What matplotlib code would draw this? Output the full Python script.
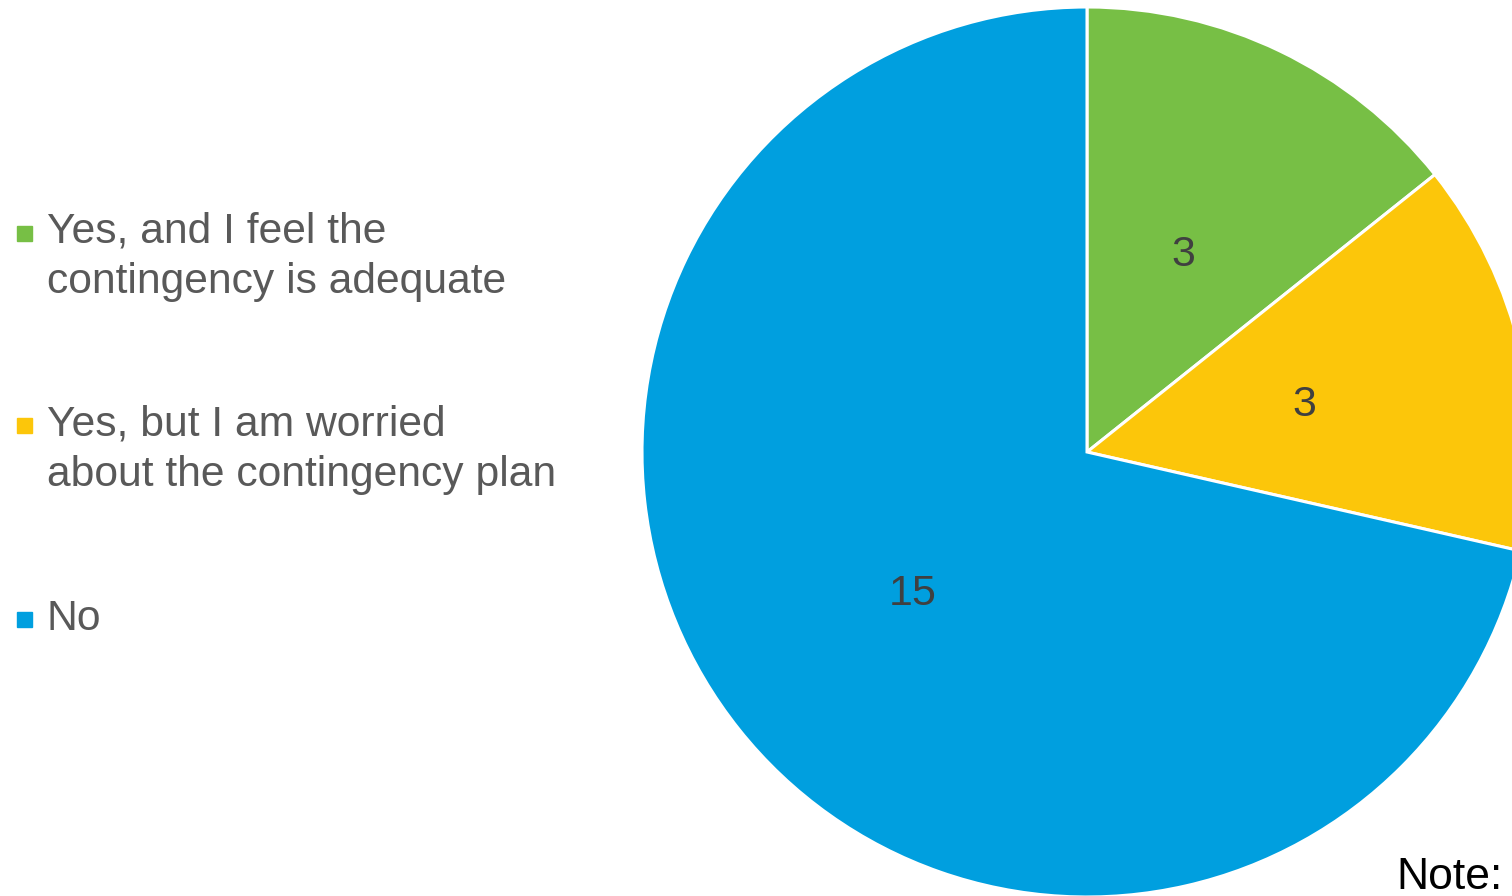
import matplotlib
matplotlib.use("Agg")
import matplotlib.pyplot as plt
from matplotlib.patches import Rectangle

plt.rcParams['font.family'] = ['Liberation Sans', 'DejaVu Sans']

labels = ["Yes, and I feel the\ncontingency is adequate",
          "Yes, but I am worried\nabout the contingency plan",
          "No"]
values = [3, 3, 15]
colors = ["#77BF45", "#FCC60A", "#009FDF"]

W, H = 1512, 896
fig = plt.figure(figsize=(W / 100, H / 100), dpi=100)
ax = fig.add_axes([0, 0, 1, 1])

wedges, texts, autotexts = ax.pie(
    values, colors=colors, startangle=90, counterclock=False,
    center=(1087, H - 452), radius=445,
    autopct=lambda p: "%d" % round(p * sum(values) / 100),
    pctdistance=0.5,
    wedgeprops=dict(edgecolor="white", linewidth=2.2),
    textprops=dict(fontsize=31, color="#404040"),
)
for t in autotexts:
    x, y = t.get_position()
    t.set_position((x, y - 3))
ax.set_xlim(0, W)
ax.set_ylim(0, H)
ax.set_aspect("auto")
ax.axis("off")

# legend, drawn by hand
ys = [257, 450, 619]
for lab, c, y in zip(labels, colors, ys):
    nlines = lab.count("\n") + 1
    fig.text(47 / W, 1 - y / H, lab, fontsize=30.7, color="#595959",
             va="center", ha="left", linespacing=1.33)
    sq_y = y - (nlines - 1) * 24.5 + 1
    fig.add_artist(Rectangle((17 / W, 1 - (sq_y + 7) / H), 15 / W, 15 / H,
                             transform=fig.transFigure, color=c))

fig.text(1396 / W, 1 - 889 / H, "Note:", fontsize=32, color="black",
         va="baseline", ha="left")

fig.savefig("out.png", dpi=100)
